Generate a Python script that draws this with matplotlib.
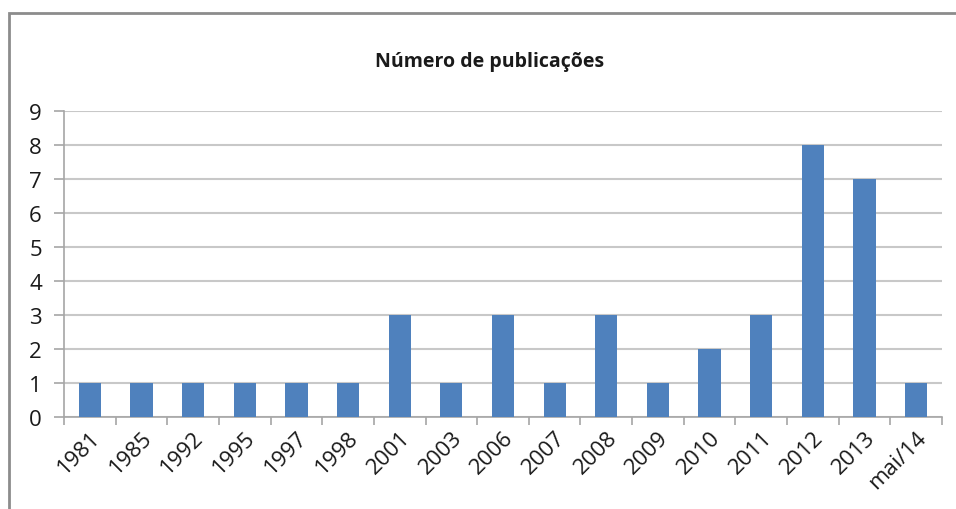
import matplotlib.pyplot as plt
import numpy as np
from matplotlib.patches import Rectangle

# dados
anos = ['1981', '1985', '1992', '1995', '1997', '1998', '2001', '2003', '2006',
        '2007', '2008', '2009', '2010', '2011', '2012', '2013', 'mai/14']
publicacoes = [1, 1, 1, 1, 1, 1, 3, 1, 3, 1, 3, 1, 2, 3, 8, 7, 1]

azul = '#4F81BD'
cinza = '#A6A6A6'

fig = plt.figure(figsize=(9.56, 5.10), dpi=100)
ax = fig.add_axes([64/956, 92/510, 878/956, 306/510])

x = np.arange(len(anos))
ax.bar(x, publicacoes, width=0.43, color=azul, zorder=3)

ax.set_xlim(-0.5, len(anos) - 0.5)
ax.set_ylim(0, 9)
ax.set_yticks(range(10))
ax.yaxis.grid(True, color='#C8C8C8', linewidth=1.5, zorder=0)

ax.set_xticks(x)
ax.set_xticklabels(anos, rotation=45, ha='right', rotation_mode='anchor',
                   fontsize=16, family='Open Sans', color='#1A1A1A')
ax.tick_params(axis='x', which='major', length=0, pad=7)
ax.set_xticks(np.arange(len(anos) + 1) - 0.5, minor=True)
ax.tick_params(axis='x', which='minor', length=6, color=cinza, width=1.2)
ax.tick_params(axis='y', length=7, color=cinza, width=1.2, labelsize=16,
               labelcolor='#1A1A1A', pad=9)
for lab in ax.get_yticklabels():
    lab.set_family('Open Sans')

for s in ['top', 'right']:
    ax.spines[s].set_visible(False)
ax.spines['left'].set_color(cinza)
ax.spines['bottom'].set_color(cinza)
ax.spines['left'].set_linewidth(1.2)
ax.spines['bottom'].set_linewidth(1.2)

fig.text(490/956, 1 - 62/510, 'Número de publicações', ha='center', va='center',
         fontsize=14, fontweight='bold', family='Open Sans',
         color='#1A1A1A')

# moldura
fig.patches.append(Rectangle((9/956, -0.1), 1.2, 0.1 + 1 - 14/510,
                             transform=fig.transFigure, fill=False,
                             edgecolor='#8C8C8C', linewidth=2))

fig.savefig('out.png', dpi=100)
